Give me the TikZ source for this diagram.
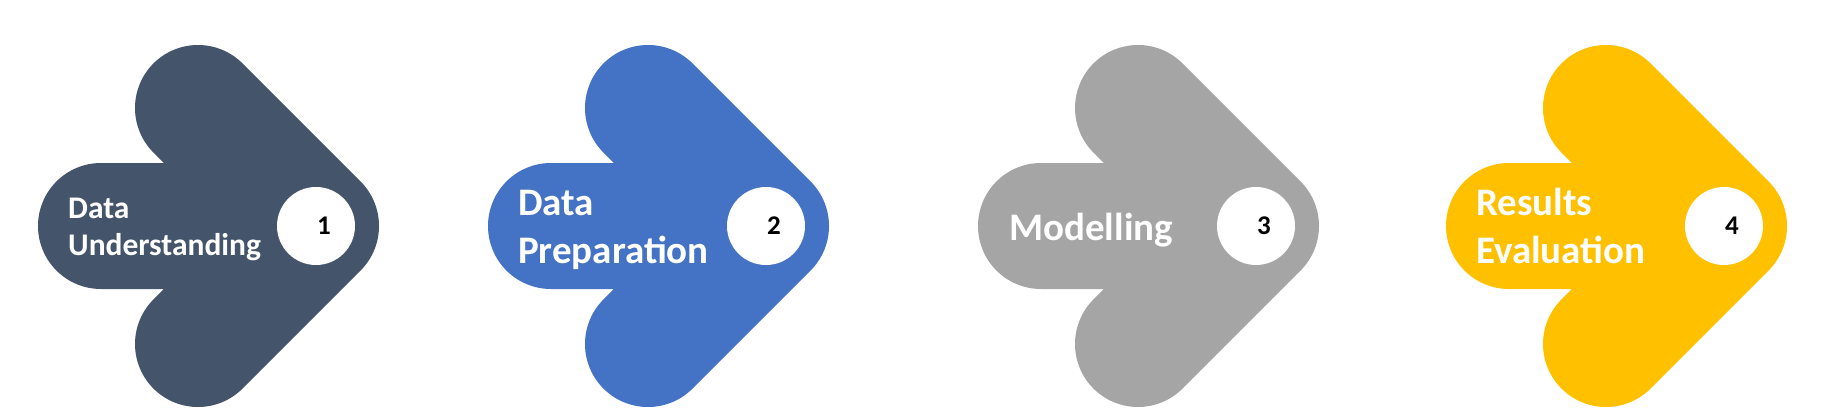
\documentclass[tikz,border=0pt]{standalone}
\usepackage{fontspec}
\setmainfont{Carlito}
\usepackage{tikz}
\usetikzlibrary{positioning}
\definecolor{slate}{HTML}{44546A}
\definecolor{stepblue}{HTML}{4472C4}
\definecolor{stepgray}{HTML}{A5A5A5}
\definecolor{stepgold}{HTML}{FFC000}
\tikzset{
chevron/.style={line width=126pt, line cap=round, line join=round}, % the fat rounded arrow body
badge/.style={circle, fill=white, minimum size=78pt, inner sep=0pt}, % white disc at the tip
stepnum/.style={font=\fontsize{27}{27}\selectfont\bfseries, text=black, inner sep=0pt}, % number in the disc
steplabel/.style={anchor=base west, align=left, inner sep=0pt, text=white}, % white title text, placed at its last baseline
}

\begin{document}
\begin{tikzpicture}[x=1pt, y=-1pt]
\path[use as bounding box] (0,0) rectangle (1824,415);

% step 1
\coordinate (t1) at (198,108);
\coordinate (p1) at (316,226);
\coordinate (b1) at (198,344);
\coordinate (s1) at (101,226);
\draw[chevron, slate] (t1) -- (p1) -- (b1) (s1) -- (p1);
\node[badge] (c1) at (p1) {};
\node[stepnum] (n1) at ([xshift=8pt]c1.center) {1};
\node[steplabel, font=\fontsize{31.5}{37}\selectfont\bfseries] (l1) at (68,255) {Data\\Understanding};

% step 2
\coordinate (t2) at (648,108);
\coordinate (p2) at (766,226);
\coordinate (b2) at (648,344);
\coordinate (s2) at (551,226);
\draw[chevron, stepblue] (t2) -- (p2) -- (b2) (s2) -- (p2);
\node[badge] (c2) at (p2) {};
\node[stepnum] (n2) at ([xshift=8pt]c2.center) {2};
\node[steplabel, font=\fontsize{39}{48}\selectfont\bfseries] (l2) at (518,263) {Data\\Preparation};

% step 3
\coordinate (t3) at (1138,108);
\coordinate (p3) at (1256,226);
\coordinate (b3) at (1138,344);
\coordinate (s3) at (1041,226);
\draw[chevron, stepgray] (t3) -- (p3) -- (b3) (s3) -- (p3);
\node[badge] (c3) at (p3) {};
\node[stepnum] (n3) at ([xshift=8pt]c3.center) {3};
\node[steplabel, font=\fontsize{39}{48}\selectfont\bfseries] (l3) at (1009,240) {Modelling};

% step 4
\coordinate (t4) at (1606,108);
\coordinate (p4) at (1724,226);
\coordinate (b4) at (1606,344);
\coordinate (s4) at (1509,226);
\draw[chevron, stepgold] (t4) -- (p4) -- (b4) (s4) -- (p4);
\node[badge] (c4) at (p4) {};
\node[stepnum] (n4) at ([xshift=8pt]c4.center) {4};
\node[steplabel, font=\fontsize{39}{48}\selectfont\bfseries] (l4) at (1476,263) {Results\\Evaluation};

\end{tikzpicture}
\end{document}
